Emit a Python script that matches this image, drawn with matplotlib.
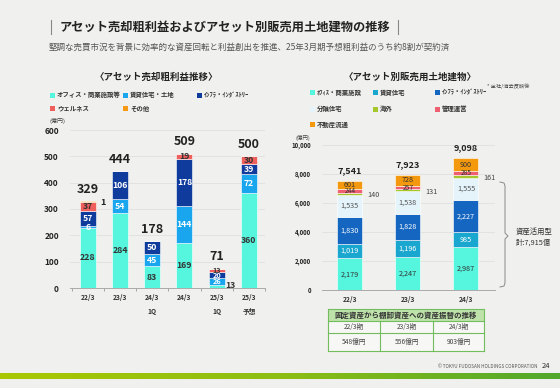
import matplotlib
matplotlib.use("Agg")
import matplotlib.pyplot as plt
import numpy as np
from matplotlib.patches import Rectangle
from matplotlib.colors import LinearSegmentedColormap

plt.rcParams['font.family'] = ['Noto Sans CJK JP', 'DejaVu Sans']

W, H = 560, 388
BG = '#F0F0EE'

# ---------------- data ----------------
left_cats = ['22/3', '23/3', '24/3\n\n1Q', '24/3', '25/3\n\n1Q', '25/3\n\n予想']
left_office = [228, 284, 83, 169, 13, 360]
left_rental = [6, 54, 45, 144, 26, 72]
left_infra = [57, 106, 50, 178, 20, 39]
left_wellness = [37, 0, 0, 19, 13, 30]
left_other = [1, 0, 0, 0, 0, 0]
left_totals = [329, 444, 178, 509, 71, 500]
left_series_names = ['オフィス・商業施設等', '賃貸住宅・土地', 'ｲﾝﾌﾗ・ｲﾝﾀﾞｽﾄﾘｰ', 'ウェルネス', 'その他']

right_cats = ['22/3', '23/3', '24/3']
right_office = [2179, 2247, 2987]
right_rental = [1019, 1196, 985]
right_infra = [1830, 1828, 2227]
right_condo = [1535, 1538, 1555]
right_overseas = [140, 131, 161]
right_mgmt = [244, 257, 285]
right_dist = [601, 728, 900]
right_totals = [7541, 7923, 9098]
right_series_names = ['ｵﾌｨｽ・商業施設', '賃貸住宅', 'ｲﾝﾌﾗ・ｲﾝﾀﾞｽﾄﾘｰ', '分譲住宅', '海外', '管理運営', '不動産流通']

table_header = '固定資産から棚卸資産への資産振替の推移'
table_periods = ['22/3期', '23/3期', '24/3期']
table_values = ['548億円', '556億円', '903億円']

# colours
C_OFF = '#55F5DE'
C_RENT_L = '#1AA6EE'
C_INFRA_L = '#0E3B9C'
C_WELL = '#EF5F5C'
C_OTHER = '#F59A12'
C_RENT_R = '#19A7CF'
C_INFRA_R = '#1466C0'
C_CONDO = '#E4F4FA'
C_OVS = '#A5C72C'
C_MGMT = '#EF5F72'
C_DIST = '#F4980E'

fig = plt.figure(figsize=(W / 100, H / 100), dpi=100, facecolor=BG)


def fx(x):
    return x / W


def fy(y):
    return 1 - y / H


def ftext(x, y, s, **kw):
    fig.text(fx(x), fy(y), s, **kw)


def frect(x, y, w, h, **kw):
    fig.add_artist(Rectangle((fx(x), fy(y + h)), w / W, h / H, transform=fig.transFigure, **kw))


# ---------------- header ----------------
fig.add_artist(plt.Line2D([fx(51), fx(51)], [fy(20), fy(34)], color='#888888', lw=0.8))
fig.add_artist(plt.Line2D([fx(398), fx(398)], [fy(20), fy(34)], color='#888888', lw=0.8))
ftext(60, 27, 'アセット売却粗利益およびアセット別販売用土地建物の推移', fontsize=8.8,
      fontweight='bold', color='#222222', va='center', ha='left')
ftext(49, 47, '堅調な売買市況を背景に効率的な資産回転と利益創出を推進、25年3月期予想粗利益のうち約8割が契約済',
      fontsize=6.1, color='#555555', va='center', ha='left')

# ---------------- left chart ----------------
ftext(156, 77, '〈アセット売却粗利益推移〉', fontsize=6.8, fontweight='bold', color='#222222',
      ha='center', va='center')
leg_l = [(52, 95), (125, 95), (199, 95), (52, 108), (125, 108)]
leg_l_cols = [C_OFF, C_RENT_L, C_INFRA_L, C_WELL, C_OTHER]
for (x, y), c, n in zip(leg_l, leg_l_cols, left_series_names):
    frect(x - 2.5, y - 2.5, 5, 5, color=c, lw=0)
    ftext(x + 5, y, n, fontsize=4.6, fontweight='bold', color='#333333', va='center', ha='left')
ftext(49, 121, '(億円)', fontsize=4.3, color='#444444', va='center', ha='left')

axL = fig.add_axes([fx(70), fy(288), 195 / W, 158 / H])
axL.set_facecolor(BG)
xl = np.arange(len(left_cats))
bw = 0.5
stack = [(left_office, C_OFF), (left_rental, C_RENT_L), (left_infra, C_INFRA_L),
         (left_wellness, C_WELL), (left_other, C_OTHER)]
bottom = np.zeros(len(xl))
bottoms = []
for vals, c in stack:
    bottoms.append(bottom.copy())
    axL.bar(xl, vals, bw, bottom=bottom, color=c, edgecolor='white', lw=0.4, zorder=3)
    bottom = bottom + np.array(vals)
axL.set_xlim(-0.55, 5.4)
axL.set_ylim(0, 600)
axL.set_yticks(range(0, 601, 100))
axL.yaxis.grid(True, color='#E0E0E0', lw=0.6, zorder=0)
axL.tick_params(axis='y', length=0, labelsize=6, pad=8, labelcolor='#222222')
for t in axL.get_yticklabels():
    t.set_fontweight('bold')
axL.set_xticks(xl)
axL.set_xticklabels(left_cats, fontsize=4.8, fontweight='bold', color='#333333', va='top',
                    linespacing=1.0)
axL.tick_params(axis='x', length=0, pad=4)
axL.set_xticks(np.arange(-0.5, 5.6, 1), minor=True)
axL.tick_params(axis='x', which='minor', length=2, color='#999999', width=0.6)
for s in ['left', 'right', 'top']:
    axL.spines[s].set_visible(False)
axL.spines['bottom'].set_color('#AAAAAA')
axL.spines['bottom'].set_linewidth(0.7)

label_cols_l = ['#333333', 'white', 'white', '#333333', '#333333']
for si, (vals, c) in enumerate(stack):
    for i, v in enumerate(vals):
        if v <= 0:
            continue
        b = bottoms[si][i]
        small = bottom[i] < 100
        fs = 5.2 if small else 6.3
        if si == 4:
            axL.text(i + 0.4, b + v - 5, str(v), fontsize=6.5, fontweight='bold',
                     color='#222222', ha='left', va='center', zorder=5)
            continue
        if si == 0 and v < 20:
            axL.text(i + 0.27, b + v / 2 + 2, str(v), fontsize=6.3, fontweight='bold',
                     color='#333333', ha='left', va='center', zorder=5)
            continue
        axL.text(i, b + v / 2, str(v), fontsize=fs, fontweight='bold',
                 color=label_cols_l[si], ha='center', va='center', zorder=5)
for i, t in enumerate(left_totals):
    top = bottom[i]
    axL.annotate(str(t), (i, top), xytext=(0, 4), textcoords='offset points',
                 ha='center', va='bottom', fontsize=9, fontweight='bold', color='#222222')

# ---------------- right chart ----------------
ftext(410, 77, '〈アセット別販売用土地建物〉', fontsize=6.8, fontweight='bold', color='#222222',
      ha='center', va='center')
ftext(487, 86, '* 全社/消去反映後', fontsize=3.8, color='#444444', va='center', ha='left')
leg_r = [(312, 92), (375, 92), (437, 92), (312, 109), (375, 109), (437, 109), (312, 124)]
leg_r_cols = [C_OFF, C_RENT_R, C_INFRA_R, C_CONDO, C_OVS, C_MGMT, C_DIST]
for (x, y), c, n in zip(leg_r, leg_r_cols, right_series_names):
    frect(x - 2.5, y - 2.5, 5, 5, color=c, lw=0)
    ftext(x + 5, y, n, fontsize=4.6, fontweight='bold', color='#333333', va='center', ha='left')
ftext(296, 138, '(億円)', fontsize=4.0, color='#444444', va='center', ha='left')

axR = fig.add_axes([fx(322), fy(290), 173 / W, 145 / H])
axR.set_facecolor(BG)
xr = np.arange(len(right_cats))
bwr = 0.43
stack_r = [(right_office, C_OFF, '#333333'), (right_rental, C_RENT_R, 'white'),
           (right_infra, C_INFRA_R, 'white'), (right_condo, C_CONDO, '#555555'),
           (right_overseas, C_OVS, None), (right_mgmt, C_MGMT, '#333333'),
           (right_dist, C_DIST, '#333333')]
bottom_r = np.zeros(len(xr))
for vals, c, lc in stack_r:
    axR.bar(xr, vals, bwr, bottom=bottom_r, color=c, edgecolor='white', lw=0.4, zorder=3)
    for i, v in enumerate(vals):
        ymid = bottom_r[i] + v / 2
        if lc is None:
            axR.text(i + bwr / 2 + 0.08, ymid - 100, f'{v:,}', fontsize=5.2, color='#444444',
                     ha='left', va='center', zorder=5)
        else:
            fs = 4.8 if v < 500 else 5.2
            axR.text(i, ymid, f'{v:,}', fontsize=fs, color=lc, ha='center', va='center', zorder=5)
    bottom_r = bottom_r + np.array(vals)
for i, t in enumerate(right_totals):
    axR.annotate(f'{t:,}', (i, bottom_r[i]), xytext=(0, 4), textcoords='offset points',
                 ha='center', va='bottom', fontsize=6.5, fontweight='bold', color='#222222')
axR.set_xlim(-0.48, 2.5)
axR.set_ylim(0, 10000)
axR.set_yticks(range(0, 10001, 2000))
axR.set_yticklabels([f'{v:,}' for v in range(0, 10001, 2000)])
axR.yaxis.grid(True, color='#E0E0E0', lw=0.6, zorder=0)
axR.tick_params(axis='y', length=0, labelsize=4.3, pad=8, labelcolor='#222222')
for t in axR.get_yticklabels():
    t.set_fontweight('bold')
axR.set_xticks(xr)
axR.set_xticklabels(right_cats, fontsize=4.8, fontweight='bold', color='#333333')
axR.tick_params(axis='x', length=0, pad=4)
for s in ['left', 'right', 'top']:
    axR.spines[s].set_visible(False)
axR.spines['bottom'].set_color('#AAAAAA')
axR.spines['bottom'].set_linewidth(0.7)

# brace
bx0, bx1 = 500, 505
by0, by1, bym = 182, 287, 236
brace_x = [bx0, bx1 - 1, bx1, bx1, bx1 + 3, bx1, bx1, bx1 - 1, bx0]
brace_y = [by0, by0 + 1, by0 + 4, bym - 3, bym, bym + 3, by1 - 4, by1 - 1, by1]
fig.add_artist(plt.Line2D([fx(v) for v in brace_x], [fy(v) for v in brace_y], color='#888888', lw=0.7))
ftext(516, 232, '資産活用型', fontsize=5.3, color='#333333', va='center', ha='left')
ftext(516, 243, '計:7,915億', fontsize=5.3, color='#333333', va='center', ha='left')

# ---------------- table ----------------
tx0, tx1 = 328, 484
cols = [328, 380, 433, 484]
ty = [309, 321, 333, 351]
frect(tx0, ty[0], tx1 - tx0, ty[1] - ty[0], facecolor='#BFE2AA', edgecolor='none')
frect(tx0, ty[1], tx1 - tx0, ty[3] - ty[1], facecolor='#F7F7F5', edgecolor='none')
lc = '#72BE5E'
for y in ty:
    fig.add_artist(plt.Line2D([fx(tx0), fx(tx1)], [fy(y), fy(y)], color=lc, lw=0.8))
for x in [tx0, tx1]:
    fig.add_artist(plt.Line2D([fx(x), fx(x)], [fy(ty[0]), fy(ty[3])], color=lc, lw=0.8))
for x in cols[1:-1]:
    fig.add_artist(plt.Line2D([fx(x), fx(x)], [fy(ty[1]), fy(ty[3])], color=lc, lw=0.8))
ftext((tx0 + tx1) / 2, (ty[0] + ty[1]) / 2, table_header, fontsize=5.4, fontweight='bold',
      color='#333333', ha='center', va='center')
for j in range(3):
    cx = (cols[j] + cols[j + 1]) / 2
    ftext(cx, (ty[1] + ty[2]) / 2, table_periods[j], fontsize=4.8, color='#444444', ha='center', va='center')
    ftext(cx, (ty[2] + ty[3]) / 2, table_values[j], fontsize=4.8, color='#444444', ha='center', va='center')

# ---------------- footer ----------------
ftext(538, 366, '© TOKYU FUDOSAN HOLDINGS CORPORATION', fontsize=3.3, color='#555555',
      ha='right', va='center')
ftext(542, 366, '24', fontsize=5.5, color='#333333', ha='left', va='center')

axG = fig.add_axes([0, fy(379), 1, 6 / H])
grad = np.linspace(0, 1, 256).reshape(1, -1)
cmap = LinearSegmentedColormap.from_list('g', ['#A9C800', '#8DBE14', '#52A82C'])
axG.imshow(grad, aspect='auto', cmap=cmap, extent=[0, 1, 0, 1])
axG.axis('off')

fig.savefig('out.png', dpi=100, facecolor=BG)
